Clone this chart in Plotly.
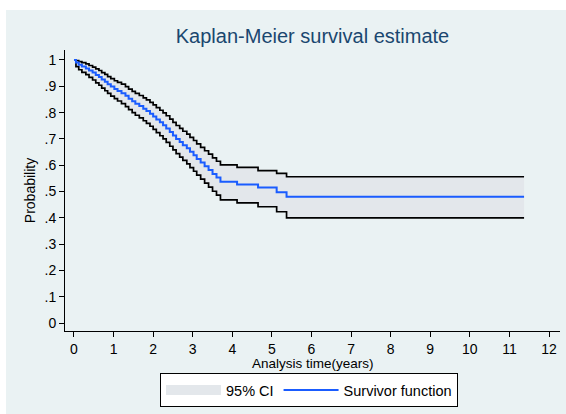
import plotly.graph_objects as go

# Kaplan-Meier step estimate and its 95% pointwise confidence bounds
time_years = [0.00, 0.05, 0.12, 0.20, 0.30, 0.38, 0.47, 0.55, 0.63, 0.70,
              0.78, 0.85, 0.93, 1.02, 1.10, 1.20, 1.30, 1.38, 1.47, 1.55,
              1.65, 1.75, 1.83, 1.92, 2.00, 2.08, 2.17, 2.25, 2.33, 2.42,
              2.50, 2.58, 2.67, 2.75, 2.85, 2.93, 3.02, 3.10, 3.20, 3.30,
              3.40, 3.50, 3.60, 3.70, 4.12, 4.65, 5.12, 5.37, 11.37]

survival = [1.000, 0.990, 0.982, 0.975, 0.968, 0.960, 0.952, 0.943, 0.935, 0.926,
            0.917, 0.908, 0.899, 0.890, 0.882, 0.874, 0.864, 0.853, 0.843, 0.834,
            0.825, 0.815, 0.806, 0.796, 0.785, 0.774, 0.763, 0.752, 0.740, 0.726,
            0.713, 0.700, 0.688, 0.676, 0.664, 0.651, 0.638, 0.624, 0.610, 0.596,
            0.582, 0.567, 0.553, 0.537, 0.527, 0.515, 0.497, 0.480, 0.480]

ci_upper = [1.000, 0.998, 0.994, 0.990, 0.985, 0.979, 0.973, 0.966, 0.960, 0.952,
            0.945, 0.937, 0.929, 0.921, 0.915, 0.908, 0.899, 0.889, 0.881, 0.873,
            0.865, 0.856, 0.848, 0.839, 0.829, 0.819, 0.809, 0.799, 0.788, 0.775,
            0.763, 0.751, 0.740, 0.729, 0.718, 0.706, 0.694, 0.681, 0.668, 0.655,
            0.642, 0.628, 0.615, 0.601, 0.592, 0.579, 0.569, 0.556, 0.556]

ci_lower = [1.000, 0.975, 0.963, 0.953, 0.944, 0.934, 0.924, 0.913, 0.904, 0.893,
            0.883, 0.873, 0.863, 0.853, 0.844, 0.834, 0.823, 0.811, 0.800, 0.790,
            0.780, 0.769, 0.759, 0.748, 0.736, 0.724, 0.712, 0.700, 0.687, 0.672,
            0.658, 0.644, 0.631, 0.618, 0.605, 0.591, 0.577, 0.562, 0.547, 0.532,
            0.517, 0.501, 0.486, 0.468, 0.457, 0.442, 0.423, 0.400, 0.400]

x_ticks = list(range(0, 13))
y_ticks = [0, 0.1, 0.2, 0.3, 0.4, 0.5, 0.6, 0.7, 0.8, 0.9, 1]
y_tick_text = ["0", ".1", ".2", ".3", ".4", ".5", ".6", ".7", ".8", ".9", "1"]

BG = "#EAF2F3"
BAND = "#E3E7EB"
BLUE = "#1A5CFF"
FONT = "Liberation Sans, Arial, sans-serif"

fig = go.Figure()

# shaded confidence band
fig.add_trace(go.Scatter(x=time_years, y=ci_upper, mode="lines", line=dict(width=0, shape="hv"),
                         showlegend=False, hoverinfo="skip"))
fig.add_trace(go.Scatter(x=time_years, y=ci_lower, mode="lines", line=dict(width=0, shape="hv"),
                         fill="tonexty", fillcolor=BAND, showlegend=False, name="95% CI"))
# legend key for the band: a wide swatch in the band colour
fig.add_trace(go.Scatter(x=[None], y=[None], mode="lines",
                         line=dict(color=BAND, width=15), name="95% CI"))
# bound outlines
for bound in (ci_upper, ci_lower):
    fig.add_trace(go.Scatter(x=time_years, y=bound, mode="lines",
                             line=dict(color="black", width=1.7, shape="hv"),
                             showlegend=False, hoverinfo="skip"))
# survivor function
fig.add_trace(go.Scatter(x=time_years, y=survival, mode="lines",
                         line=dict(color=BLUE, width=2, shape="hv"),
                         name="Survivor function"))

L, R, T, B = 65, 560, 50, 331
W, H = 566, 414

def px_to_paper_x(px):
    return (px - L) / (R - L)

def px_to_paper_y(py):
    return (B - py) / (B - T)

fig.update_layout(
    width=W, height=H,
    margin=dict(l=L, r=W - R, t=T, b=H - B, pad=0),
    paper_bgcolor="white",
    plot_bgcolor="white",
    font=dict(family=FONT, color="black", size=14),
    title=dict(text="Kaplan-Meier survival estimate", x=0.5, xref="paper", xanchor="center",
               y=1 - 36 / H, yanchor="middle",
               font=dict(size=20, color="#1A476F", family=FONT)),
    shapes=[dict(type="rect", xref="paper", yref="paper", layer="below",
                 x0=px_to_paper_x(6), x1=px_to_paper_x(W + 5),
                 y0=px_to_paper_y(H + 5), y1=px_to_paper_y(10),
                 fillcolor=BG, line=dict(width=0))],
    annotations=[dict(text="Analysis time(years)", xref="paper", yref="paper",
                      x=0.5, xanchor="center", y=px_to_paper_y(363), yanchor="middle",
                      showarrow=False, font=dict(size=13.5, family=FONT, color="black"))],
    legend=dict(orientation="h", x=px_to_paper_x(309), xanchor="center",
                y=px_to_paper_y(373), yanchor="top",
                bgcolor="white", bordercolor="black", borderwidth=1,
                itemwidth=55, font=dict(size=14.5, family=FONT),
                traceorder="normal", tracegroupgap=0),
    showlegend=True,
)

fig.update_xaxes(range=[-0.227, 12.278], tickvals=x_ticks, ticks="outside", ticklen=5,
                 tickcolor="black", showline=True, linecolor="black", linewidth=1,
                 showgrid=False, zeroline=False, tickfont=dict(size=14))
fig.update_yaxes(range=[-0.0304, 1.038], tickvals=y_ticks, ticktext=y_tick_text,
                 ticks="outside", ticklen=5, tickcolor="black",
                 showline=True, linecolor="black", linewidth=1,
                 showgrid=True, gridcolor=BG, gridwidth=1, zeroline=False,
                 title=dict(text="Probability", standoff=5, font=dict(size=14)),
                 tickfont=dict(size=14))

fig.write_html("out.html")
